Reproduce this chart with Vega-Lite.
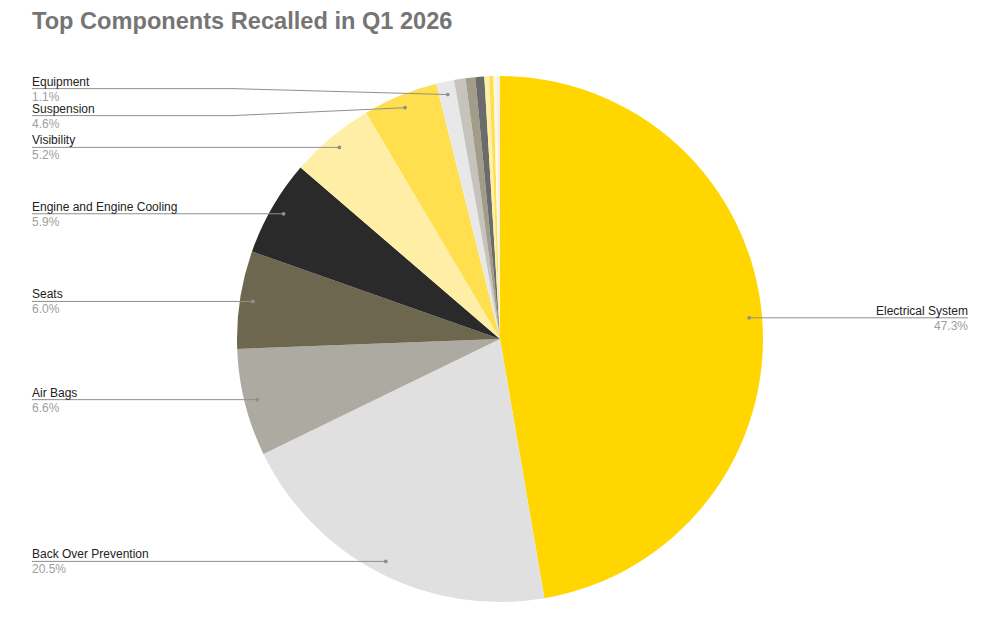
{
  "$schema": "https://vega.github.io/schema/vega-lite/v6.json",
  "width": 1000,
  "height": 584,
  "autosize": {"type": "none"},
  "padding": {"top": 50, "left": 0, "right": 0, "bottom": 0},
  "background": "white",
  "config": {"view": {"stroke": null}, "font": "Liberation Sans"},
  "title": {
    "text": "Top Components Recalled in Q1 2026",
    "anchor": "start",
    "frame": "group",
    "dx": 32,
    "fontSize": 23.6,
    "fontWeight": "bold",
    "color": "#757575",
    "font": "Liberation Sans",
    "offset": -3,
    "baseline": "alphabetic"
  },
  "data": {
    "values": [
      {"component": "Electrical System", "value": 47.3, "idx": 1},
      {"component": "Back Over Prevention", "value": 20.5, "idx": 2},
      {"component": "Air Bags", "value": 6.6, "idx": 3},
      {"component": "Seats", "value": 6.0, "idx": 4},
      {"component": "Engine and Engine Cooling", "value": 5.9, "idx": 5},
      {"component": "Visibility", "value": 5.2, "idx": 6},
      {"component": "Suspension", "value": 4.6, "idx": 7},
      {"component": "Equipment", "value": 1.1, "idx": 8},
      {"component": "Other 1", "value": 0.7, "idx": 9},
      {"component": "Other 2", "value": 0.6, "idx": 10},
      {"component": "Other 3", "value": 0.55, "idx": 11},
      {"component": "Other 4", "value": 0.3, "idx": 12},
      {"component": "Other 5", "value": 0.25, "idx": 13},
      {"component": "Other 6", "value": 0.2, "idx": 14},
      {"component": "Other 7", "value": 0.2, "idx": 15}
    ]
  },
  "transform": [
    {"joinaggregate": [{"op": "sum", "field": "value", "as": "total"}]},
    {"window": [{"op": "sum", "field": "value", "as": "cum"}], "sort": [{"field": "idx"}], "frame": [null, 0]},
    {"calculate": "2*PI*(datum.cum - datum.value/2)/datum.total", "as": "mid"},
    {"calculate": "500 + 250*sin(datum.mid)", "as": "dotX"},
    {"calculate": "289 - 250*cos(datum.mid)", "as": "dotY"},
    {"calculate": "sin(datum.mid) > 0 ? 'right' : 'left'", "as": "side"},
    {"calculate": "format(datum.value, '.1f') + '%'", "as": "pct"}
  ],
  "layer": [
    {
      "mark": {"type": "arc", "x": 500, "y": 289, "radius": 263},
      "encoding": {
        "theta": {"field": "value", "type": "quantitative", "stack": true},
        "order": {"field": "idx", "type": "quantitative"},
        "color": {
          "field": "component",
          "type": "nominal",
          "legend": null,
          "scale": {
            "domain": ["Electrical System", "Back Over Prevention", "Air Bags", "Seats", "Engine and Engine Cooling", "Visibility", "Suspension", "Equipment", "Other 1", "Other 2", "Other 3", "Other 4", "Other 5", "Other 6", "Other 7"],
            "range": ["#FFD600", "#E0E0E0", "#ADAAA2", "#6E6750", "#2A2A2A", "#FFEEA6", "#FFDF4D", "#E8E8E8", "#C5C3BB", "#A29D88", "#6B6B6B", "#FFEFA8", "#FFDF4D", "#FFF7D6", "#EEEEEE"]
          }
        }
      }
    },
    {
      "transform": [
        {"filter": "datum.idx <= 8"},
        {"window": [{"op": "lag", "field": "dotY", "as": "prevY"}, {"op": "lead", "field": "dotY", "as": "nextY"}], "groupby": ["side"], "sort": [{"field": "dotY"}]},
        {"calculate": "(datum.nextY != null && datum.nextY - datum.dotY < 27) ? (datum.dotY + datum.nextY)/2 - 12.5 : ((datum.prevY != null && datum.dotY - datum.prevY < 27) ? (datum.dotY + datum.prevY)/2 + 14.5 : datum.dotY)", "as": "ly"},
        {"calculate": "datum.side == 'left' ? 32 : 968", "as": "sx"},
        {"calculate": "datum.side == 'left' ? min(datum.dotX, 232) : max(datum.dotX, 768)", "as": "ex"}
      ],
      "layer": [
        {
          "mark": {"type": "rule", "color": "#8f8f8f", "strokeWidth": 1},
          "encoding": {
            "x": {"field": "sx", "type": "quantitative", "scale": null},
            "x2": {"field": "ex"},
            "y": {"field": "ly", "type": "quantitative", "scale": null},
            "y2": {"field": "ly"}
          }
        },
        {
          "mark": {"type": "rule", "color": "#8f8f8f", "strokeWidth": 1},
          "encoding": {
            "x": {"field": "ex", "type": "quantitative", "scale": null},
            "x2": {"field": "dotX"},
            "y": {"field": "ly", "type": "quantitative", "scale": null},
            "y2": {"field": "dotY"}
          }
        },
        {
          "mark": {"type": "circle", "color": "#8f8f8f", "opacity": 1, "size": 14},
          "encoding": {
            "x": {"field": "dotX", "type": "quantitative", "scale": null},
            "y": {"field": "dotY", "type": "quantitative", "scale": null}
          }
        },
        {
          "transform": [{"filter": "datum.side == 'left'"}],
          "layer": [
            {
              "mark": {"type": "text", "align": "left", "baseline": "alphabetic", "dy": -3, "fontSize": 12, "color": "#222222"},
              "encoding": {
                "x": {"field": "sx", "type": "quantitative", "scale": null},
                "y": {"field": "ly", "type": "quantitative", "scale": null},
                "text": {"field": "component"}
              }
            },
            {
              "mark": {"type": "text", "align": "left", "baseline": "alphabetic", "dy": 12, "fontSize": 12, "color": "#9e9e9e"},
              "encoding": {
                "x": {"field": "sx", "type": "quantitative", "scale": null},
                "y": {"field": "ly", "type": "quantitative", "scale": null},
                "text": {"field": "pct"}
              }
            }
          ]
        },
        {
          "transform": [{"filter": "datum.side == 'right'"}],
          "layer": [
            {
              "mark": {"type": "text", "align": "right", "baseline": "alphabetic", "dy": -3, "fontSize": 12, "color": "#222222"},
              "encoding": {
                "x": {"field": "sx", "type": "quantitative", "scale": null},
                "y": {"field": "ly", "type": "quantitative", "scale": null},
                "text": {"field": "component"}
              }
            },
            {
              "mark": {"type": "text", "align": "right", "baseline": "alphabetic", "dy": 12, "fontSize": 12, "color": "#9e9e9e"},
              "encoding": {
                "x": {"field": "sx", "type": "quantitative", "scale": null},
                "y": {"field": "ly", "type": "quantitative", "scale": null},
                "text": {"field": "pct"}
              }
            }
          ]
        }
      ]
    }
  ]
}
